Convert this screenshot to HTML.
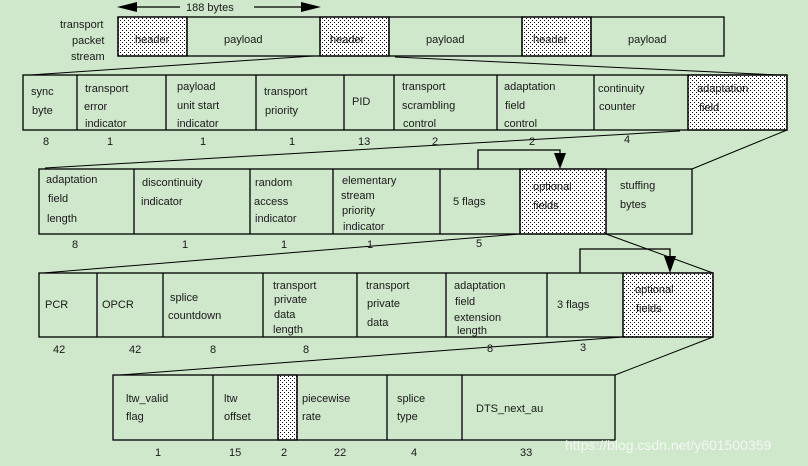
<!DOCTYPE html>
<html><head><meta charset="utf-8"><style>
html,body{margin:0;padding:0;background:#cfe7cb;}
svg{display:block}
text{font-family:"Liberation Sans",Arial,sans-serif;font-size:11px;fill:#1a1a1a}
</style></head><body>
<svg width="808" height="466" viewBox="0 0 808 466" xmlns="http://www.w3.org/2000/svg">
<defs>
<pattern id="dots" width="4" height="4" patternUnits="userSpaceOnUse">
<rect width="4" height="4" fill="#ffffff"/>
<rect x="0" y="0" width="1" height="1" fill="#000"/>
<rect x="2" y="2" width="1" height="1" fill="#000"/>
</pattern>
</defs>
<rect width="808" height="466" fill="#cfe7cb"/>
<g stroke="#000" stroke-width="1.3" fill="none">
<!-- row1 -->
<rect x="118" y="17" width="69" height="39" fill="url(#dots)"/>
<rect x="320" y="17" width="69" height="39" fill="url(#dots)"/>
<rect x="522" y="17" width="69" height="39" fill="url(#dots)"/>
<rect x="118" y="17" width="606" height="39"/>
<line x1="187" y1="17" x2="187" y2="56"/><line x1="320" y1="17" x2="320" y2="56"/>
<line x1="389" y1="17" x2="389" y2="56"/><line x1="522" y1="17" x2="522" y2="56"/>
<line x1="591" y1="17" x2="591" y2="56"/>
<!-- arrows 188 -->
<line x1="130" y1="7" x2="180" y2="7"/><line x1="254" y1="7" x2="310" y2="7"/>
<!-- row2 -->
<rect x="688" y="75" width="99" height="55" fill="url(#dots)"/>
<rect x="23" y="75" width="764" height="55"/>
<line x1="77" y1="75" x2="77" y2="130"/><line x1="166" y1="75" x2="166" y2="130"/>
<line x1="256" y1="75" x2="256" y2="130"/><line x1="344" y1="75" x2="344" y2="130"/>
<line x1="394" y1="75" x2="394" y2="130"/><line x1="497" y1="75" x2="497" y2="130"/>
<line x1="594" y1="75" x2="594" y2="130"/><line x1="688" y1="75" x2="688" y2="130"/>
<!-- row3 -->
<rect x="520" y="169" width="86" height="65" fill="url(#dots)"/>
<rect x="39" y="169" width="653" height="65"/>
<line x1="134" y1="169" x2="134" y2="234"/><line x1="250" y1="169" x2="250" y2="234"/>
<line x1="333" y1="169" x2="333" y2="234"/><line x1="440" y1="169" x2="440" y2="234"/>
<line x1="520" y1="169" x2="520" y2="234"/><line x1="606" y1="169" x2="606" y2="234"/>
<polyline points="478,169 478,150 560,150 560,160"/>
<!-- row4 -->
<rect x="623" y="273" width="90" height="64" fill="url(#dots)"/>
<rect x="39" y="273" width="674" height="64"/>
<line x1="97" y1="273" x2="97" y2="337"/><line x1="163" y1="273" x2="163" y2="337"/>
<line x1="263" y1="273" x2="263" y2="337"/><line x1="357" y1="273" x2="357" y2="337"/>
<line x1="446" y1="273" x2="446" y2="337"/><line x1="547" y1="273" x2="547" y2="337"/>
<line x1="623" y1="273" x2="623" y2="337"/>
<polyline points="580,273 580,249 670,249 670,262"/>
<!-- row5 -->
<rect x="278" y="375" width="19" height="65" fill="url(#dots)"/>
<rect x="113" y="375" width="502" height="65"/>
<line x1="213" y1="375" x2="213" y2="440"/><line x1="278" y1="375" x2="278" y2="440"/>
<line x1="297" y1="375" x2="297" y2="440"/><line x1="387" y1="375" x2="387" y2="440"/>
<line x1="462" y1="375" x2="462" y2="440"/>
<!-- perspective lines -->
<g stroke-width="1">
<line x1="30" y1="75" x2="313" y2="56"/><line x1="395" y1="57" x2="778" y2="75"/>
<line x1="45" y1="168" x2="680" y2="131"/><line x1="787" y1="130" x2="692" y2="169"/>
<line x1="43" y1="273" x2="520" y2="234"/><line x1="606" y1="234" x2="713" y2="273"/>
<line x1="120" y1="375" x2="623" y2="337"/><line x1="713" y1="337" x2="615" y2="375"/>
</g>
</g>
<g fill="#000">
<polygon points="117,7 137,2 137,12"/><polygon points="321,7 301,2 301,12"/>
<polygon points="554,153 566,153 560,169"/>
<polygon points="664,256 676,256 670,273"/>
</g>
<text x="186" y="11">188 bytes</text>
<text x="60" y="28">transport</text><text x="72" y="44">packet</text><text x="71" y="60">stream</text>
<text x="135" y="43">header</text><text x="224" y="43">payload</text>
<text x="330" y="43">header</text><text x="426" y="43">payload</text>
<text x="533" y="43">header</text><text x="628" y="43">payload</text>
<!-- row2 text -->
<text x="31" y="95">sync</text><text x="32" y="114">byte</text>
<text x="85" y="92">transport</text><text x="84" y="110">error</text><text x="85" y="127">indicator</text>
<text x="177" y="90">payload</text><text x="177" y="109">unit start</text><text x="177" y="127">indicator</text>
<text x="264" y="95">transport</text><text x="265" y="114">priority</text>
<text x="352" y="105">PID</text>
<text x="402" y="90">transport</text><text x="402" y="109">scrambling</text><text x="403" y="127">control</text>
<text x="504" y="90">adaptation</text><text x="505" y="109">field</text><text x="504" y="127">control</text>
<text x="598" y="92">continuity</text><text x="599" y="110">counter</text>
<text x="697" y="92">adaptation</text><text x="699" y="111">field</text>
<text x="43" y="145">8</text><text x="107" y="145">1</text><text x="200" y="145">1</text><text x="289" y="145">1</text><text x="358" y="145">13</text><text x="432" y="145">2</text><text x="529" y="145">2</text><text x="624" y="143">4</text>
<!-- row3 text -->
<text x="46" y="183">adaptation</text><text x="48" y="202">field</text><text x="47" y="222">length</text>
<text x="142" y="186">discontinuity</text><text x="141" y="205">indicator</text>
<text x="255" y="186">random</text><text x="254" y="205">access</text><text x="255" y="222">indicator</text>
<text x="342" y="184">elementary</text><text x="341" y="199">stream</text><text x="342" y="214">priority</text><text x="343" y="230">indicator</text>
<text x="453" y="205">5 flags</text>
<text x="533" y="190">optional</text><text x="533" y="209">fields</text>
<text x="620" y="189">stuffing</text><text x="620" y="208">bytes</text>
<text x="72" y="248">8</text><text x="182" y="248">1</text><text x="281" y="248">1</text><text x="367" y="248">1</text><text x="476" y="247">5</text>
<!-- row4 text -->
<text x="45" y="308">PCR</text><text x="102" y="308">OPCR</text>
<text x="170" y="301">splice</text><text x="168" y="319">countdown</text>
<text x="273" y="289">transport</text><text x="274" y="303">private</text><text x="274" y="318">data</text><text x="273" y="333">length</text>
<text x="366" y="289">transport</text><text x="367" y="307">private</text><text x="367" y="326">data</text>
<text x="454" y="289">adaptation</text><text x="455" y="305">field</text><text x="454" y="321">extension</text><text x="457" y="334">length</text>
<text x="557" y="308">3 flags</text>
<text x="635" y="293">optional</text><text x="636" y="312">fields</text>
<text x="53" y="353">42</text><text x="129" y="353">42</text><text x="210" y="353">8</text><text x="303" y="353">8</text><text x="487" y="352">8</text><text x="580" y="351">3</text>
<!-- row5 text -->
<text x="126" y="402">ltw_valid</text><text x="126" y="420">flag</text>
<text x="224" y="402">ltw</text><text x="224" y="420">offset</text>
<text x="302" y="402">piecewise</text><text x="302" y="420">rate</text>
<text x="397" y="402">splice</text><text x="397" y="420">type</text>
<text x="476" y="412">DTS_next_au</text>
<text x="155" y="456">1</text><text x="229" y="456">15</text><text x="281" y="456">2</text><text x="334" y="456">22</text><text x="411" y="456">4</text><text x="520" y="456">33</text>
<text x="565" y="450" style="font-size:14px;fill:#ffffff;opacity:0.75">https://blog.csdn.net/y601500359</text>
</svg>
</body></html>
